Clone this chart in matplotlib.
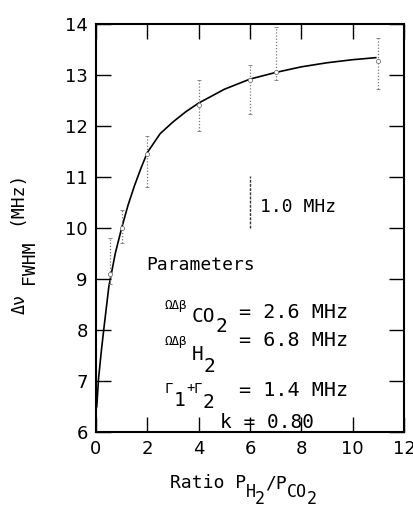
import matplotlib
matplotlib.use("Agg")
import matplotlib.pyplot as plt

# ---- data ----
curve_x = [0.0, 0.03, 0.1, 0.2, 0.3, 0.5, 0.75, 1.0, 1.25, 1.5, 1.75, 2.0, 2.5, 3.0, 3.5,
           4.0, 5.0, 6.0, 7.0, 8.0, 9.0, 10.0, 10.9]
curve_y = [6.45, 6.5, 7.05, 7.55, 8.0, 8.85, 9.5, 10.0, 10.45, 10.83, 11.17, 11.48, 11.85,
           12.08, 12.28, 12.45, 12.72, 12.92, 13.05, 13.16, 13.24, 13.3, 13.34]

meas_x = [0.55, 1.0, 2.0, 4.0, 6.0, 7.0, 11.0]
meas_y = [9.1, 10.0, 11.45, 12.42, 12.9, 13.05, 13.27]
meas_lo = [8.9, 9.7, 10.81, 11.91, 12.23, 12.9, 12.72]
meas_hi = [9.8, 10.35, 11.8, 12.9, 13.2, 13.94, 13.72]

scale_x = 6.0
scale_lo, scale_hi = 10.0, 11.02

xticks = [0, 2, 4, 6, 8, 10, 12]
yticks = [6, 7, 8, 9, 10, 11, 12, 13, 14]

mono = "DejaVu Sans Mono"
W, H = 414, 509

fig = plt.figure(figsize=(W / 100, H / 100), dpi=100)
ax = fig.add_axes([96 / W, 77 / H, 308 / W, 408 / H])


def put(px, py, s, size=13, ha="left", va="center", **kw):
    fig.text(px / W, 1 - py / H, s, family=mono, fontsize=size, ha=ha, va=va, **kw)


ax.plot(curve_x, curve_y, color="black", lw=1.2)

yerr = [[y - l for y, l in zip(meas_y, meas_lo)], [h - y for y, h in zip(meas_y, meas_hi)]]
eb = ax.errorbar(meas_x, meas_y, yerr=yerr, fmt="o", ms=3, mfc="white", mec="#777777",
                 ecolor="#777777", elinewidth=0.9, capsize=1.5, capthick=1.5, mew=0.6)
for c in eb[2]:
    c.set_linestyle((0, (1, 1.5)))

ax.plot([scale_x, scale_x], [scale_lo, scale_hi], color="#333333", lw=1.0, ls=(0, (2, 1)))
put(260, 207, "1.0 MHz", 13)

ax.set_xlim(0, 12)
ax.set_ylim(6, 14)
ax.set_xticks(xticks)
ax.set_yticks(yticks)
ax.tick_params(direction="in", length=11, width=1.0, top=True, right=True,
               labelsize=13, pad=6)
ax.set_xticklabels([str(t) for t in xticks])
ax.set_yticklabels([str(t) for t in yticks])
for s in ax.spines.values():
    s.set_linewidth(1.5)

# parameters block
put(146, 265, "Parameters", 13)
# line 1
put(165, 305, "ΩΔβ", 9)
put(192, 316, "CO", 14)
put(216, 326, "2", 14)
put(348, 312, "= 2.6 MHz", 14.5, ha="right")
# line 2
put(165, 342, "ΩΔβ", 9)
put(192, 355, "H", 14)
put(204, 367, "2", 14)
put(348, 341, "= 6.8 MHz", 14.5, ha="right")
# line 3
put(165, 389, "Γ", 10)
put(174, 401, "1", 14)
put(186, 388, "+", 10)
put(194, 389, "Γ", 10)
put(203, 402, "2", 14)
put(348, 391, "= 1.4 MHz", 14.5, ha="right")
# line 4
put(220, 423, "k = 0.80", 14)

# x label
put(170, 483, "Ratio P", 13)
put(246, 492, "H", 12)
put(255, 499, "2", 12)
put(265, 483, "/P", 13)
put(287, 492, "CO", 12)
put(307, 499, "2", 12)

# y label (rotated)
put(20, 304, "Δν", 12, ha="center", rotation=90)
put(29, 262, "FWHM", 13, ha="center", rotation=90)
put(16, 198, "(MHz)", 13, ha="center", rotation=90)

fig.savefig("out.png", dpi=100)
